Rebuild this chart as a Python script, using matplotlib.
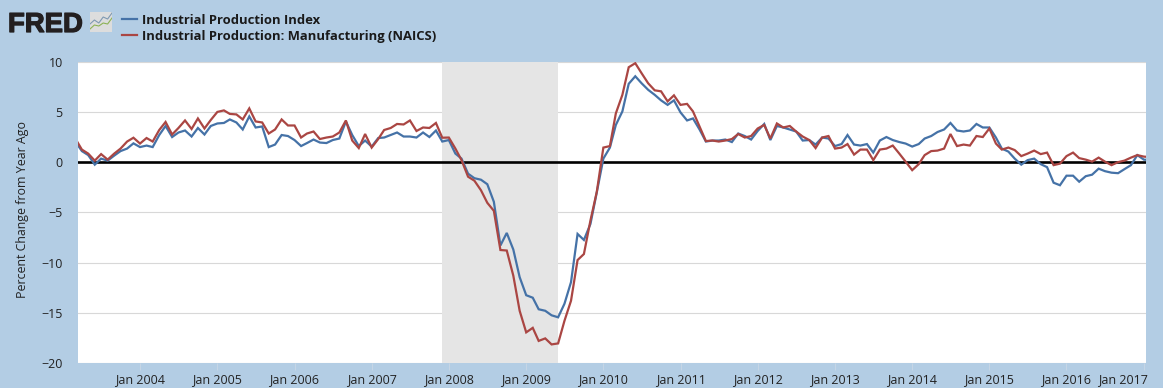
import matplotlib
matplotlib.use("Agg")
import matplotlib.pyplot as plt
import matplotlib.dates as mdates
import matplotlib.patheffects as pe
from matplotlib.transforms import ScaledTranslation
from matplotlib.lines import Line2D
import pandas as pd

plt.rcParams['font.family'] = ['Open Sans', 'DejaVu Sans']

start_month = "2003-03-01"
industrial = [
 2.05,1.1,.7,-.25,.35,.15,.65,1.1,1.35,1.87,1.5,1.65,1.5,2.7,3.6,2.5,2.95,3.15,2.55,3.4,
 2.75,3.6,3.85,3.9,4.25,3.95,3.25,4.55,3.45,3.55,1.5,1.75,2.7,2.6,2.2,1.6,1.9,2.25,1.95,1.9,
 2.2,2.35,4.05,2.7,1.6,2.15,1.55,2.4,2.45,2.7,2.95,2.55,2.55,2.45,2.95,2.5,3.15,2.05,
 2.2,.85,.35,-1.15,-1.6,-1.75,-2.2,-3.95,-8.3,-7.05,-8.7,-11.45,-13.25,-13.5,-14.65,-14.8,-15.25,-15.45,
 -14.1,-11.95,-7.15,-7.75,-6.15,-3,.35,1.45,3.7,5.05,7.8,8.55,7.85,7.2,6.7,6.15,5.7,6.15,4.95,4.15,4.35,3.25,
 2.05,2.15,2.15,2.25,2.0,2.85,2.6,2.25,3.1,3.8,2.2,3.6,3.45,3.25,3.05,2.15,2.2,1.75,2.45,2.35,
 1.6,1.8,2.7,1.75,1.65,1.8,.95,2.15,2.5,2.2,2.0,1.85,1.55,1.8,2.35,2.6,3.0,3.25,3.9,3.15,3.05,3.15,3.8,3.45,
 3.45,2.45,1.35,1.05,.35,-.25,.2,.35,-.2,-.5,-2.05,-2.3,-1.35,-1.35,-1.95,-1.4,-1.25,-.65,-.9,-1.05,-1.1,-.7,-.3,.7,.25,.2]
manufacturing = [
 2.35,1.25,.85,.15,.8,.25,.85,1.35,2.05,2.43,1.85,2.4,2.05,3.2,4.0,2.75,3.4,4.15,3.3,4.35,
 3.35,4.2,5.0,5.15,4.8,4.75,4.25,5.35,4.05,3.95,2.85,3.25,4.25,3.65,3.65,2.45,2.85,3.05,2.3,2.45,
 2.55,2.95,4.15,2.15,1.4,2.8,1.45,2.3,3.2,3.4,3.8,3.75,4.15,3.1,3.45,3.4,3.9,2.43,
 2.45,1.35,.2,-1.45,-1.85,-2.8,-4.05,-4.85,-8.75,-8.8,-11.3,-14.8,-16.95,-16.5,-17.8,-17.55,-18.15,-18.05,
 -15.8,-13.8,-9.75,-9.15,-5.8,-2.95,1.45,1.6,4.85,6.7,9.45,9.85,8.85,7.85,7.15,7.05,6.05,6.65,5.7,5.8,5.05,3.55,
 2.1,2.15,2.05,2.15,2.3,2.8,2.45,2.6,3.35,3.7,2.35,3.85,3.45,3.6,3.05,2.55,2.2,1.4,2.45,2.6,
 1.35,1.45,1.8,.75,1.25,1.25,.2,1.25,1.35,1.65,.85,.05,-.8,-.2,.7,1.1,1.15,1.35,2.8,1.6,1.75,1.65,2.6,2.5,
 3.35,1.85,1.25,1.45,1.2,.6,.85,1.15,.8,.95,-.3,-.15,.6,.95,.4,.25,.05,.45,.05,-.3,0,.15,.45,.7,.55,.5]
series_names = ["Industrial Production Index", "Industrial Production: Manufacturing (NAICS)"]
recession = ("2007-12-01", "2009-06-01")
y_ticks = [-20, -15, -10, -5, 0, 5, 10]
tick_years = list(range(2004, 2018))

BG = "#B3CDE4"
BLUE = "#4572A7"
RED = "#AA4643"
INK = "#222222"
W, H = 1163, 388

fig = plt.figure(figsize=(W / 100, H / 100), dpi=100, facecolor=BG)
L, R, T, B = 78, 1146, 61.7, 363
ax = fig.add_axes([L / W, 1 - B / H, (R - L) / W, (B - T) / H], facecolor="white")

dates = pd.date_range(start_month, periods=len(industrial), freq="MS")
ax.axvspan(pd.Timestamp(recession[0]), pd.Timestamp(recession[1]), color="#E5E5E5", lw=0, zorder=1)
ax.grid(axis="y", color="#D8D8D8", lw=0.8, zorder=2)
ax.set_axisbelow(True)
ax.axhline(0, color="black", lw=1.9, zorder=3)
ax.plot(dates, industrial, color=BLUE, lw=1.6, zorder=4, solid_joinstyle="miter")
ax.plot(dates, manufacturing, color=RED, lw=1.6, zorder=5, solid_joinstyle="miter")

j04 = mdates.date2num(pd.Timestamp("2004-01-01"))
j16 = mdates.date2num(pd.Timestamp("2016-01-01"))
ppd = (1066.5 - 140) / (j16 - j04)
ax.set_xlim(j04 - (140 - L) / ppd, j04 + (R - 140) / ppd)
ax.set_ylim(-20, 10)
ax.set_yticks(y_ticks)
ax.set_xticks([pd.Timestamp(f"{y}-01-01") for y in tick_years])
ax.set_xticklabels([f"Jan {y}" for y in tick_years])
ax.tick_params(axis="y", length=0, pad=11, labelsize=9, labelcolor=INK)
ax.tick_params(axis="x", length=5, width=0.7, color="#C6D6E6", pad=2, labelsize=9, labelcolor=INK)
for s in ax.spines.values():
    s.set_visible(False)

last = ax.get_xticklabels()[-1]
last.set_ha("right")
last.set_transform(last.get_transform() + ScaledTranslation(4.4 / 100, 0, fig.dpi_scale_trans))

fig.text(23 / W, 1 - 209 / H, "Percent Change from Year Ago", rotation=90, ha="center", va="center",
         fontsize=8.9, color=INK)

handles = [Line2D([], [], color=BLUE, lw=1.6), Line2D([], [], color=RED, lw=1.6)]
leg = fig.legend(handles, series_names, loc="upper left", bbox_to_anchor=(118 / W, 1 - 10 / H),
                 frameon=False, handlelength=1.15, handletextpad=0.38, labelspacing=0.2,
                 borderpad=0.3, borderaxespad=0,
                 prop={"family": "Open Sans", "weight": "bold", "size": 9.4})
for t in leg.get_texts():
    t.set_color("#1a1a1a")

logo = fig.text(8 / W, 1 - 32 / H, "FRED", fontsize=19.8, fontweight="bold", family="Liberation Sans",
                color="#231F20", ha="left", va="baseline")
logo.set_path_effects([pe.withStroke(linewidth=0.9, foreground="#231F20")])

icon = fig.add_axes([90 / W, 1 - 32 / H, 22 / W, 20 / H], facecolor="#DDDDDD")
icon.set_xlim(0, 1)
icon.set_ylim(0, 1)
icon.set_xticks([])
icon.set_yticks([])
for s in icon.spines.values():
    s.set_visible(False)
icon.plot([0, .2, .4, .6, .8, 1], [.4, .6, .45, .75, .65, .95], color="#7F99B2", lw=0.8)
icon.plot([0, .2, .4, .6, .8, 1], [.15, .35, .3, .45, .4, .7], color="#8DB255", lw=0.8)

fig.savefig("out.png", dpi=100, facecolor=BG)
